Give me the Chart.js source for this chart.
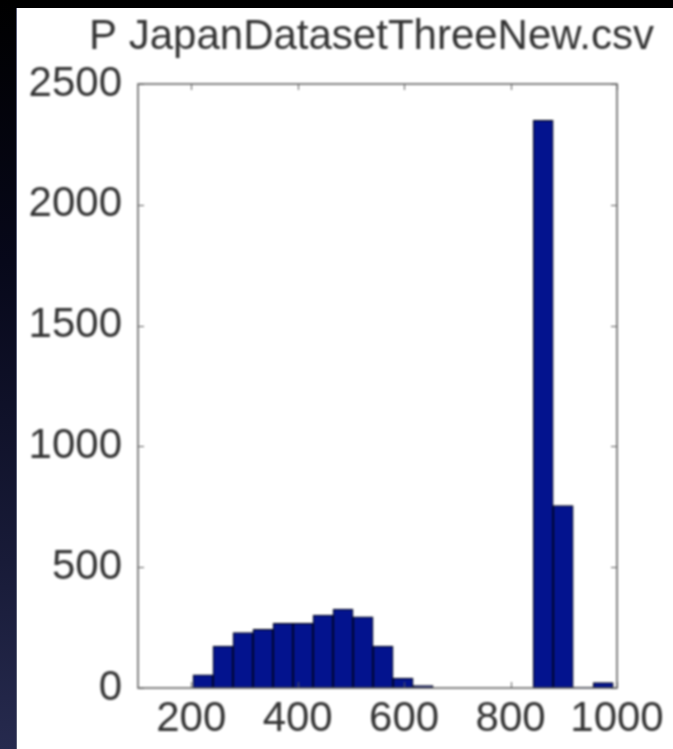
<!DOCTYPE html>
<html>
<head>
<meta charset="utf-8">
<script src="https://cdn.jsdelivr.net/npm/chart.js@4.4.1/dist/chart.umd.min.js"></script>
<style>
  html, body { margin: 0; padding: 0; }
  body {
    width: 673px; height: 749px; position: relative; overflow: hidden;
    background: linear-gradient(to bottom, #000000 0%, #07081a 35%, #181b38 75%, #262a4e 100%);
  }
  #panel {
    position: absolute; left: 17px; top: 8px; right: 0; bottom: 0;
    background: #ffffff;
    box-shadow: -1px 0 0 #5a5f78;
  }
  #c { position: absolute; left: 0; top: 0; filter: blur(0.9px); }
</style>
</head>
<body>
<div id="panel"></div>
<canvas id="c" width="743" height="749"></canvas>
<script>
// Histogram bins (bin centres) and the counts in each bin
const binCenters = [222.1, 259.7, 297.3, 334.9, 372.5, 410.1, 447.7, 485.3, 522.9, 560.5, 598.1,
                    635.7, 673.3, 710.9, 748.5, 786.1, 823.7, 861.3, 898.9, 936.5, 974.1];
const counts     = [55, 174, 229, 243, 268, 268, 302, 327, 295, 174, 41,
                    10, 0, 0, 0, 0, 0, 2350, 755, 4, 22];

// Axis ticks
const xTicks = [200, 400, 600, 800, 1000];
const yTicks = [0, 500, 1000, 1500, 2000, 2500];

const titleText = 'P JapanDatasetThreeNew.csv';

const FONT = 'Liberation Sans, Arial, Helvetica, sans-serif';
const TEXT = '#333333';
const SIZE = 42;

// Boxed axes with inward tick marks on all four sides
const boxTicks = {
  id: 'boxTicks',
  afterDatasetsDraw(chart) {
    const { ctx, chartArea: a, scales: { x, y } } = chart;
    ctx.save();
    ctx.strokeStyle = '#5a5a5a';
    ctx.lineWidth = 1.5;
    ctx.strokeRect(a.left, a.top, a.right - a.left, a.bottom - a.top);
    ctx.beginPath();
    const L = 6;
    x.ticks.forEach(t => {
      const px = Math.round(x.getPixelForValue(t.value)) + 0.5;
      ctx.moveTo(px, a.bottom); ctx.lineTo(px, a.bottom - L);
      ctx.moveTo(px, a.top);    ctx.lineTo(px, a.top + L);
    });
    y.ticks.forEach(t => {
      const py = Math.round(y.getPixelForValue(t.value)) + 0.5;
      ctx.moveTo(a.left, py);  ctx.lineTo(a.left + L, py);
      ctx.moveTo(a.right, py); ctx.lineTo(a.right - L, py);
    });
    ctx.lineWidth = 1;
    ctx.stroke();
    ctx.restore();
  }
};

const plain = v => String(v);

new Chart(document.getElementById('c'), {
  type: 'bar',
  data: {
    datasets: [{
      data: binCenters.map((c, i) => ({ x: c, y: counts[i] })),
      backgroundColor: '#03138e',
      borderColor: '#000000',
      borderWidth: 1,
      borderSkipped: false,
      barPercentage: 1.0,
      categoryPercentage: 1.0
    }]
  },
  options: {
    responsive: false,
    devicePixelRatio: 1,
    animation: false,
    layout: { padding: 0 },
    plugins: {
      legend: { display: false },
      tooltip: { enabled: false },
      title: {
        display: true,
        text: titleText,
        color: TEXT,
        font: { family: FONT, size: SIZE, weight: 'normal', lineHeight: 1 },
        padding: { top: 16, bottom: 26 }
      }
    },
    scales: {
      x: {
        type: 'linear',
        min: 100,
        max: 1000,
        offset: false,
        grid: { display: false, drawTicks: false },
        border: { display: false },
        afterBuildTicks: s => { s.ticks = xTicks.map(v => ({ value: v })); },
        afterFit: s => { s.height = 61; },
        ticks: {
          color: TEXT,
          padding: 10,
          maxRotation: 0,
          autoSkip: false,
          callback: plain,
          font: { family: FONT, size: SIZE, lineHeight: 1 }
        }
      },
      y: {
        min: 0,
        max: 2500,
        grid: { display: false, drawTicks: false },
        border: { display: false },
        afterBuildTicks: s => { s.ticks = yTicks.map(v => ({ value: v })); },
        afterFit: s => { s.width = 138; },
        ticks: {
          color: TEXT,
          padding: 16,
          autoSkip: false,
          callback: plain,
          font: { family: FONT, size: SIZE, lineHeight: 1 }
        }
      },
      // empty strip to the right of the plot box
      yRight: {
        position: 'right',
        display: true,
        grid: { display: false, drawTicks: false },
        border: { display: false },
        ticks: { display: false },
        afterFit: s => { s.width = 126; }
      }
    }
  },
  plugins: [boxTicks]
});
</script>
</body>
</html>
